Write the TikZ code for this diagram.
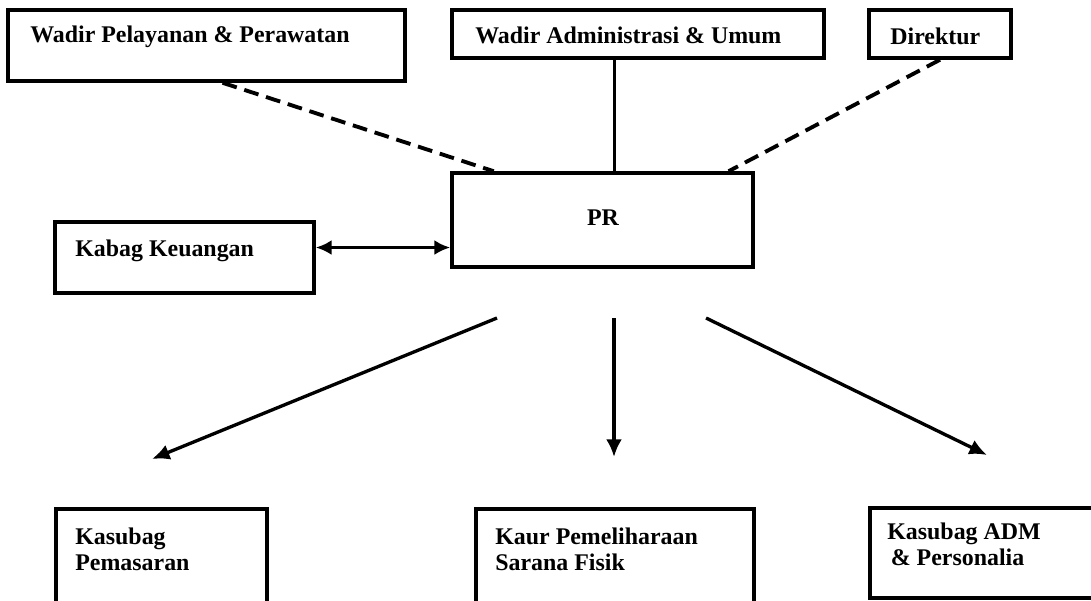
\documentclass[tikz,border=0pt]{standalone}
\usepackage{fontspec}
\setmainfont{Liberation Serif}
\usepackage{tikz}
\usetikzlibrary{positioning,arrows.meta,calc}

\begin{document}
\begin{tikzpicture}[
  lbl/.style={font=\fontsize{13.6}{14.6}\selectfont\bfseries, inner sep=0pt, align=left, anchor=west},
  unitbox/.style={draw=black, line width=2pt, inner sep=0pt},
  dashedge/.style={draw=black, line width=2.2pt, dash pattern=on 8.5pt off 4.5pt},
  plainedge/.style={draw=black, line width=1.8pt},
  arrowedge/.style={draw=black, line width=1.9pt, -{Latex[length=10pt,width=9pt]}},
  bothedge/.style={draw=black, line width=1.9pt, {Latex[length=9pt,width=8.5pt]}-{Latex[length=9pt,width=8.5pt]}}
]
\clip (0,0) rectangle (21.82,-12);
\fill[white] (0,0) rectangle (21.82,-12);

\node[unitbox, minimum width=7.94cm, minimum height=1.42cm] (wpp) at (4.13,-0.91) {};
\node[unitbox, minimum width=7.44cm, minimum height=0.96cm] (wau) at (12.76,-0.68) {};
\node[unitbox, minimum width=2.84cm, minimum height=0.96cm] (dir) at (18.80,-0.68) {};
\node[unitbox, minimum width=6.02cm, minimum height=1.88cm] (pr) at (12.05,-4.40) {};
\node[unitbox, minimum width=5.18cm, minimum height=1.42cm] (kk) at (3.69,-5.15) {};
\node[unitbox, minimum width=4.22cm, minimum height=2.32cm] (ksp) at (3.23,-11.34) {};
\node[unitbox, minimum width=5.56cm, minimum height=2.32cm] (kps) at (12.30,-11.34) {};
\node[unitbox, minimum width=4.70cm, minimum height=1.80cm] (kadm) at (19.75,-11.06) {};

\node[lbl] (twpp) at (0.60,-0.74) {Wadir Pelayanan \& Perawatan};
\node[lbl] (twau) at (9.50,-0.70) {Wadir Administrasi \& Umum};
\node[lbl] (tdir) at (17.80,-0.72) {Direktur};
\node[lbl, anchor=center] (tpr) at (12.06,-4.36) {PR};
\node[lbl] (tkk) at (1.50,-5.02) {Kabag Keuangan};
\node[lbl] (tksp) at (1.50,-10.98) {Kasubag\\Pemasaran};
\node[lbl] (tkps) at (9.90,-10.98) {Kaur Pemeliharaan\\Sarana Fisik};
\node[lbl] (tkadm) at (17.74,-10.88) {Kasubag ADM\\\hspace{2pt}\& Personalia};

% lines from the top row
\draw[dashedge] ($(wpp.south west)!0.54!(wpp.south east)$) -- ($(pr.north west)!0.143!(pr.north east)$);
\coordinate (ptop) at ($(pr.north west)!0.54!(pr.north east)$);
\draw[plainedge] (ptop) -- (ptop |- wau.south);
\draw[dashedge] (dir.south) -- ($(pr.north west)!0.914!(pr.north east)$);

% two way link
\coordinate (kkr) at ($(kk.north east)!0.366!(kk.south east)$);
\draw[bothedge] (kkr) -- (kkr -| pr.west);

% arrows down
\coordinate (s1) at (9.94,-6.36);
\coordinate (e1) at (3.04,-9.18);
\coordinate (s2) at (12.28,-6.36);
\coordinate (e2) at (12.28,-9.14);
\coordinate (s3) at (14.12,-6.36);
\coordinate (e3) at (19.74,-9.10);
\draw[arrowedge] (s1) -- (e1);
\draw[arrowedge] (s2) -- (e2);
\draw[arrowedge] (s3) -- (e3);

\end{tikzpicture}
\end{document}
